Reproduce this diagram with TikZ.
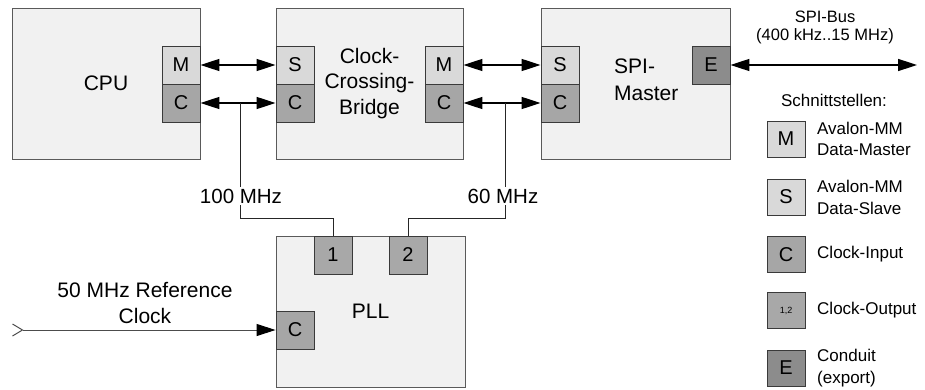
\documentclass[tikz,border=0pt]{standalone}
\usepackage{fontspec}
\setmainfont{Liberation Sans}
\usetikzlibrary{arrows.meta}
\definecolor{contfill}{HTML}{F1F1F1}
\definecolor{contdraw}{HTML}{5A5A5A}
\definecolor{msfill}{HTML}{D9D9D9}
\definecolor{cfill}{HTML}{A6A6A6}
\definecolor{ofill}{HTML}{A8A8A8}
\definecolor{efill}{HTML}{8C8C8C}
\definecolor{portdraw}{HTML}{3A3A3A}
\begin{document}
\begin{tikzpicture}[x=1pt,y=-1pt,
  container/.style={draw=contdraw, fill=contfill, line width=0.9pt, minimum height=151pt, inner sep=0pt, font=\fontsize{21}{25.5}\selectfont, align=center},
  port/.style={draw=portdraw, line width=0.9pt, minimum width=38pt, minimum height=38pt, inner sep=0pt, font=\fontsize{20}{22}\selectfont},
  msport/.style={port, fill=msfill},
  cport/.style={port, fill=cfill},
  oport/.style={port, fill=ofill},
  eport/.style={port, fill=efill},
  bus/.style={line width=1.5pt, {Triangle[length=19pt,width=12pt]}-{Triangle[length=19pt,width=12pt]}},
  tap/.style={line width=0.9pt, draw=black!85},
  freq/.style={fill=white, inner sep=2pt, font=\fontsize{20.5}{22}\selectfont},
  legtext/.style={anchor=west, align=left, font=\fontsize{17}{21.5}\selectfont, inner sep=0pt},
  legbox/.style={port, minimum height=36pt}
]
\useasboundingbox (0,0) rectangle (925,390);

% containers
\node[container, minimum width=188pt] (cpu) at (106,83.5) {CPU};
\node[container, minimum width=187pt] (ccb) at (369.5,83.5) {Clock-\\Crossing-\\Bridge};
\node[container, minimum width=189pt] (spi) at (635.5,83.5) {};
\node[anchor=west, align=left, inner sep=0pt, font=\fontsize{21}{27}\selectfont] (spilbl) at (614,80) {SPI-\\Master};
\node[container, minimum width=189pt] (pll) at (370.5,311.5) {PLL};

% ports
\node[msport] (cpuM) at (181,65) {M};
\node[cport] (cpuC) at (181,103) {C};
\node[msport] (ccbS) at (295,65) {S};
\node[cport] (ccbC) at (295,103) {C};
\node[msport] (ccbM) at (444,65) {M};
\node[cport] (ccbC2) at (444,103) {C};
\node[msport] (spiS) at (560,65) {S};
\node[cport] (spiC) at (560,103) {C};
\node[eport] (spiE) at (711,65) {E};
\node[oport] (pll1) at (333,255) {1};
\node[oport] (pll2) at (408,255) {2};
\node[cport] (pllC) at (295,330) {C};

% buses
\draw[bus] (cpuM.east) -- (ccbS.west);
\draw[bus] (cpuC.east) -- (ccbC.west);
\draw[bus] (ccbM.east) -- (spiS.west);
\draw[bus] (ccbC2.east) -- (spiC.west);
\coordinate (busend) at (917,65);
\draw[bus] (spiE.east) -- (busend);
\node[align=center, inner sep=0pt, font=\fontsize{16.5}{18}\selectfont] (bustxt) at (825,27) {SPI-Bus\\(400 kHz..15 MHz)};

% clock taps
\coordinate (tap1) at (240,103);
\coordinate (tap2) at (505,103);
\draw[tap] (tap1) -- ++(0,115) -| (pll1.north);
\draw[tap] (tap2) -- ++(0,115) -| (pll2.north);
\node[freq] (f100) at (241,196) {100 MHz};
\node[freq] (f60) at (503,196) {60 MHz};

% reference clock
\coordinate (refin) at (12,330);
\draw[line width=1pt, draw=black!70, {Straight Barb[reversed,length=10pt,width=12pt,color=black!70]}-{Triangle[length=19pt,width=12pt,color=black]}] (refin) -- (pllC.west);
\node[align=center, inner sep=0pt, font=\fontsize{21}{26}\selectfont] (reftxt) at (145,303) {50 MHz Reference\\Clock};

% legend
\node[inner sep=0pt, font=\fontsize{17}{20}\selectfont] (leghead) at (834,100) {Schnittstellen:};
\node[legbox, fill=msfill] (lgM) at (786,139) {M};
\node[legtext] (ltM) at (817,139) {Avalon-MM\\Data-Master};
\node[legbox, fill=msfill] (lgS) at (786,197) {S};
\node[legtext] (ltS) at (817,197.5) {Avalon-MM\\Data-Slave};
\node[legbox, fill=cfill] (lgC) at (786,254.5) {C};
\node[legtext] (ltC) at (817,254.5) {Clock-Input};
\node[legbox, fill=ofill, font=\fontsize{9}{10}\selectfont] (lgO) at (786,310.5) {1,2};
\node[legtext] (ltO) at (817,310.5) {Clock-Output};
\node[legbox, fill=efill] (lgE) at (786,368) {E};
\node[legtext] (ltE) at (817,368) {Conduit\\(export)};
\end{tikzpicture}
\end{document}
